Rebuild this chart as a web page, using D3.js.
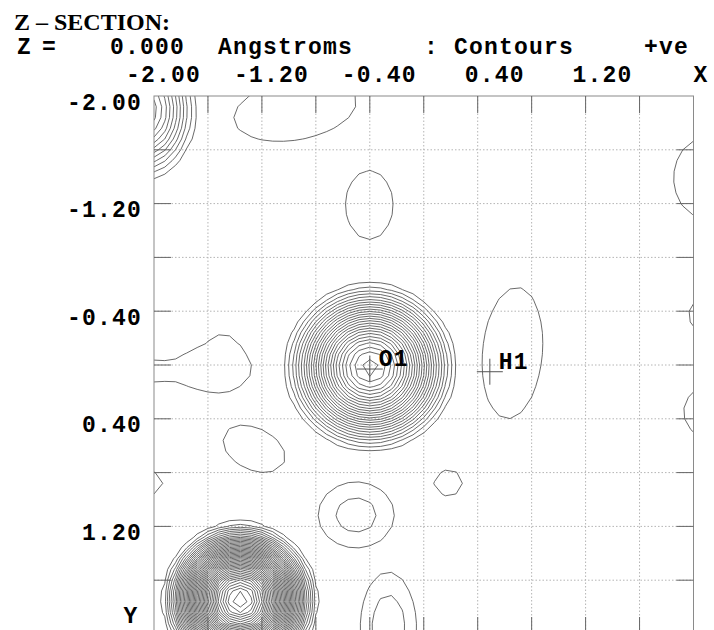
<!DOCTYPE html>
<html>
<head>
<meta charset="utf-8">
<script src="https://cdn.jsdelivr.net/npm/d3@7"></script>
<style>
  body { margin: 0; background: #fff; }
  .mono { font-family: "Liberation Mono", "Courier New", monospace; font-weight: bold; font-size: 23px; letter-spacing: 1.2px; fill: #000; }
  .title { font-family: "Liberation Serif", "Times New Roman", serif; font-weight: bold; font-size: 24px; fill: #000; }
</style>
</head>
<body>
<div id="chart"></div>
<script>
// axis labels and grid (Angstroms)
const tickValues = [-2.00, -1.20, -0.40, 0.40, 1.20];
const gridValues = [-1.6, -1.2, -0.8, -0.4, 0, 0.4, 0.8, 1.2, 1.6];

// labelled atoms
const atomNames = ["O1", "H1"];
const atomX = [-0.40, 0.49];
const atomY = [0.03, 0.05];

// density peaks: centre (A), height (in contour steps), radii (A), tilt (deg)
const peakX      = [-2.067, -0.954, -0.404, 2.089, 2.089, -0.397, 0.657, 2.067, -1.488, -2.030, -1.258, -2.104, 0.182, -0.501, -0.263, -1.362];
const peakY      = [-1.896, -1.896, -1.190, -1.390, -0.372, 0.015, -0.089, 0.349, -0.037, 0.045, 0.625, 0.877, 0.877, 1.115, 1.955, 1.747];
const peakHeight = [12, 1.8, 1.8, 1.8, 1.8, 26.5, 1.8, 1.8, 1.3, 1.3, 1.8, 1.8, 1.8, 2.5, 2.7, 45];
const peakRx     = [0.44, 0.912, 0.35, 0.47, 0.25, 0.703, 0.441, 0.28, 0.423, 1.05, 0.485, 0.338, 0.213, 0.465, 0.332, 0.62];
const peakRy     = [0.61, 0.442, 0.51, 0.59, 0.25, 0.692, 0.972, 0.34, 0.550, 0.253, 0.309, 0.206, 0.192, 0.405, 0.665, 0.625];
const peakTilt   = [0, -10, 0, 0, 0, 0, 5, 0, 0, 0, 25, 0, 0, 0, 0, 0];

// contour levels (positive only)
const contourLevels = d3.range(1, 60, 1);

const width = 714, height = 630;

const svg = d3.select("#chart").append("svg")
    .attr("width", width)
    .attr("height", height);

const x = d3.scaleLinear().domain([-2, 2]).range([154, 693.5]);
const y = d3.scaleLinear().domain([-2, 2]).range([96, 634]);

// sample the map on a grid a bit wider than the plot, edges get clipped
const step = 0.08, lo = -2.4, n = 61;
const values = new Float64Array(n * n);
for (let j = 0; j < n; j++) {
  for (let i = 0; i < n; i++) {
    const gx = lo + i * step, gy = lo + j * step;
    let v = 0;
    peakX.forEach((px, k) => {
      const a = peakTilt[k] * Math.PI / 180;
      const dx = gx - px, dy = gy - peakY[k];
      const u = (dx * Math.cos(a) + dy * Math.sin(a)) / peakRx[k];
      const w = (-dx * Math.sin(a) + dy * Math.cos(a)) / peakRy[k];
      const r2 = u * u + w * w;
      if (r2 < 1) v += peakHeight[k] * (1 - r2) * (1 - r2);
    });
    values[j * n + i] = v;
  }
}

const contours = d3.contours().size([n, n]).thresholds(contourLevels)(values);

const toPx = d3.geoTransform({
  point(cx, cy) {
    this.stream.point(x(lo + (cx - 0.5) * step), y(lo + (cy - 0.5) * step));
  }
});
const path = d3.geoPath(toPx);

svg.append("clipPath").attr("id", "plot")
  .append("rect")
    .attr("x", x(-2)).attr("y", y(-2))
    .attr("width", x(2) - x(-2)).attr("height", y(2) - y(-2));

// dotted grid
const grid = svg.append("g")
    .attr("stroke", "#b4b4b4")
    .attr("stroke-width", 1)
    .attr("stroke-dasharray", "1.5,2");
grid.selectAll(".gx").data(gridValues).enter().append("line")
    .attr("x1", d => x(d)).attr("x2", d => x(d))
    .attr("y1", y(-2)).attr("y2", y(2));
grid.selectAll(".gy").data(gridValues).enter().append("line")
    .attr("y1", d => y(d)).attr("y2", d => y(d))
    .attr("x1", x(-2)).attr("x2", x(2));

// contour lines
svg.append("g")
    .attr("clip-path", "url(#plot)")
  .selectAll("path")
  .data(contours)
  .enter().append("path")
    .attr("d", path)
    .attr("fill", "none")
    .attr("stroke", "#444")
    .attr("stroke-width", 0.8);

// frame and inward ticks
svg.append("rect")
    .attr("x", x(-2)).attr("y", y(-2))
    .attr("width", x(2) - x(-2)).attr("height", y(2) - y(-2))
    .attr("fill", "none").attr("stroke", "#8a8a8a");

const ticks = svg.append("g").attr("stroke", "#666").attr("stroke-width", 1);
const tl = 17;
gridValues.forEach(d => {
  ticks.append("line").attr("x1", x(d)).attr("x2", x(d)).attr("y1", y(-2)).attr("y2", y(-2) + tl);
  ticks.append("line").attr("x1", x(d)).attr("x2", x(d)).attr("y1", y(2)).attr("y2", y(2) - tl);
  ticks.append("line").attr("y1", y(d)).attr("y2", y(d)).attr("x1", x(-2)).attr("x2", x(-2) + tl);
  ticks.append("line").attr("y1", y(d)).attr("y2", y(d)).attr("x1", x(2)).attr("x2", x(2) - tl);
});

// atom markers
const atoms = svg.append("g");
atomNames.forEach((name, i) => {
  const cx = x(atomX[i]), cy = y(atomY[i]);
  atoms.append("path")
      .attr("d", `M${cx - 13},${cy}H${cx + 13}M${cx},${cy - 13}V${cy + 13}`)
      .attr("stroke", "#555").attr("stroke-width", 1);
  atoms.append("text").attr("class", "mono")
      .attr("x", cx + 9).attr("y", cy - 3)
      .text(name);
});

// axis labels
svg.selectAll(".xl").data(tickValues).enter().append("text")
    .attr("class", "mono")
    .attr("text-anchor", "end")
    .attr("x", d => x(d) + 47)
    .attr("y", 82)
    .text(d => d.toFixed(2));
svg.append("text").attr("class", "mono").attr("text-anchor", "middle")
    .attr("x", 701).attr("y", 82).text("X");

svg.selectAll(".yl").data(tickValues).enter().append("text")
    .attr("class", "mono")
    .attr("text-anchor", "end")
    .attr("x", 142)
    .attr("y", d => y(d) + 13.5)
    .text(d => d.toFixed(2));
svg.append("text").attr("class", "mono").attr("text-anchor", "middle")
    .attr("x", 131).attr("y", 623).text("Y");

// header
svg.append("text").attr("class", "title").attr("x", 14).attr("y", 30).text("Z \u2013 SECTION:");
const head = [["Z", 17], ["=", 42], ["0.000", 110], ["Angstroms", 218], [":", 424], ["Contours", 454], ["+ve", 644]];
head.forEach(([t, hx]) => {
  svg.append("text").attr("class", "mono").attr("x", hx).attr("y", 54).text(t);
});
</script>
</body>
</html>
